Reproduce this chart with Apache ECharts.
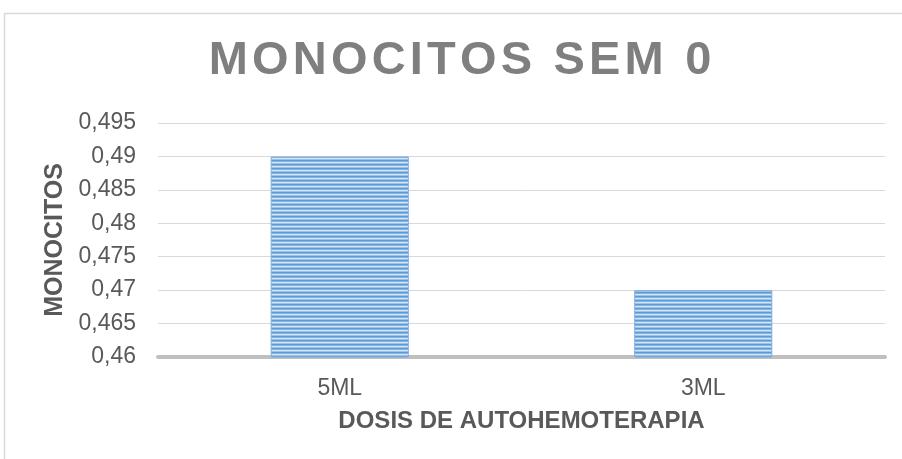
<!DOCTYPE html>
<html>
<head>
<meta charset="utf-8">
<script src="https://cdn.jsdelivr.net/npm/echarts@6/dist/echarts.min.js"></script>
<style>
html,body{margin:0;padding:0;background:#fff;}
#c{width:902px;height:459px;}
</style>
</head>
<body>
<div id="c"></div>
<script>
const titleText = 'MONOCITOS SEM 0';
const categories = ['5ML', '3ML'];
const values = [0.49, 0.47];
const yMin = 0.46, yMax = 0.495, yStep = 0.005;
const yName = 'MONOCITOS';
const xName = 'DOSIS DE AUTOHEMOTERAPIA';

const FONT = '"Liberation Sans", Arial, sans-serif';

// striped fill pattern
const pat = document.createElement('canvas');
pat.width = 8; pat.height = 4;
const pc = pat.getContext('2d');
const rows = ['#5b9bd5', '#86b5e2', '#d3e5f6', '#9cc2e8'];
rows.forEach((c, i) => { pc.fillStyle = c; pc.fillRect(0, i, 8, 1); });

const richTitle = titleText.split('').map(ch => ch === ' ' ? '{s| }' : '{c|' + ch + '}').join('');

const chart = echarts.init(document.getElementById('c'), null, {renderer: 'canvas'});
chart.setOption({
  backgroundColor: '#ffffff',
  animation: false,
  grid: {left: 158, right: 17, top: 123, bottom: 102},
  graphic: [
    {type: 'rect', shape: {x: 4.5, y: 13.5, width: 1200, height: 1200},
     style: {fill: 'none', stroke: '#d9d9d9', lineWidth: 1.5}, silent: true},
    {type: 'text', x: 460, y: 61,
     style: {text: richTitle, textAlign: 'center', textVerticalAlign: 'middle',
       rich: {
         c: {fontSize: 47, fontWeight: 'bold', fontFamily: FONT, fill: '#7f7f7f', padding: [0, 2.1, 0, 2.1]},
         s: {fontSize: 47, fontWeight: 'bold', fontFamily: FONT, fill: '#7f7f7f', padding: [0, 2.1, 0, 2.1]}
       }}}
  ],
  xAxis: {
    type: 'category', data: categories,
    name: xName, nameLocation: 'middle', nameGap: 52,
    nameTextStyle: {fontFamily: FONT, fontSize: 24, fontWeight: 'bold', color: '#595959'},
    axisLine: {lineStyle: {color: '#bfbfbf', width: 4}},
    axisTick: {show: false},
    axisLabel: {fontFamily: FONT, fontSize: 23, color: '#595959', margin: 20}
  },
  yAxis: {
    type: 'value', min: yMin, max: yMax, interval: yStep,
    name: yName, nameLocation: 'middle', nameGap: 88, nameRotate: 90,
    nameTextStyle: {fontFamily: FONT, fontSize: 25, fontWeight: 'bold', color: '#595959'},
    axisLine: {show: false}, axisTick: {show: false},
    splitLine: {lineStyle: {color: '#d9d9d9', width: 1}},
    axisLabel: {fontFamily: FONT, fontSize: 23, color: '#595959', margin: 22,
      formatter: v => String(Number(v.toFixed(3))).replace('.', ',')}
  },
  series: [{
    type: 'bar', data: values, barWidth: '38%',
    itemStyle: {color: {image: pat, repeat: 'repeat'}, borderColor: '#7eb0e0', borderWidth: 1}
  }]
});
</script>
</body>
</html>
